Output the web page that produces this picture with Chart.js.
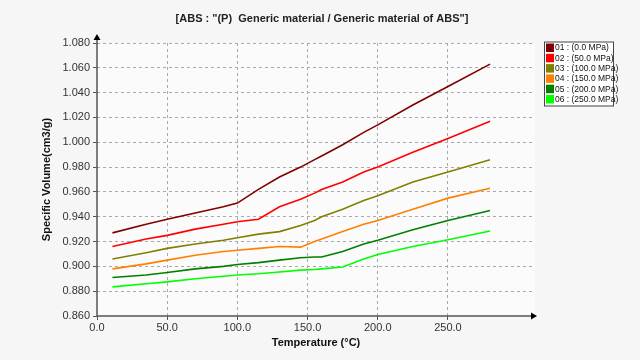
<!DOCTYPE html>
<html>
<head>
<meta charset="utf-8">
<script src="https://cdn.jsdelivr.net/npm/chart.js@4.4.0/dist/chart.umd.min.js"></script>
<style>
html,body{margin:0;padding:0;background:#f6f6f6;}
#wrap{width:640px;height:360px;position:relative;}
</style>
</head>
<body>
<div id="wrap"><canvas id="c" width="640" height="360"></canvas></div>
<script>
const chartTitle = '[ABS : "(P)  Generic material / Generic material of ABS"]';
const xTitle = 'Temperature (\u00B0C)';
const yTitle = 'Specific Volume(cm3/g)';
const xTicks = [0, 50, 100, 150, 200, 250];
const seriesLabels = ['01 : (0.0 MPa)', '02 : (50.0 MPa)', '03 : (100.0 MPa)', '04 : (150.0 MPa)', '05 : (200.0 MPa)', '06 : (250.0 MPa)'];
const seriesColors = ['#800000', '#ff0000', '#808000', '#ff8000', '#008000', '#00ff00'];
const temps = [11, 35, 50, 70, 90, 100, 115, 130, 145, 155, 160, 175, 190, 200, 225, 250, 280];
const s01 = [0.927, 0.934, 0.938, 0.943, 0.948, 0.951, 0.962, 0.972, 0.980, 0.986, 0.989, 0.998, 1.008, 1.014, 1.030, 1.045, 1.063];
const s02 = [0.916, 0.922, 0.925, 0.930, 0.934, 0.936, 0.938, 0.948, 0.954, 0.959, 0.962, 0.968, 0.976, 0.980, 0.992, 1.003, 1.017];
const s03 = [0.906, 0.911, 0.9145, 0.918, 0.921, 0.923, 0.926, 0.928, 0.933, 0.937, 0.940, 0.946, 0.953, 0.957, 0.968, 0.976, 0.986];
const s04 = [0.898, 0.902, 0.905, 0.909, 0.912, 0.913, 0.9145, 0.916, 0.9155, 0.920, 0.922, 0.928, 0.934, 0.937, 0.946, 0.955, 0.963];
const s05 = [0.891, 0.893, 0.895, 0.898, 0.900, 0.9015, 0.903, 0.905, 0.907, 0.9075, 0.9075, 0.912, 0.918, 0.921, 0.9295, 0.937, 0.945];
const s06 = [0.8835, 0.886, 0.8875, 0.890, 0.892, 0.893, 0.894, 0.8955, 0.897, 0.8975, 0.898, 0.8995, 0.906, 0.9095, 0.916, 0.9215, 0.9285];
const seriesValues = [s01, s02, s03, s04, s05, s06];

const FONT = "'Liberation Sans', Arial, sans-serif";

const bgPlugin = {
  id: 'bg',
  beforeDraw(chart) {
    const {ctx, chartArea: a} = chart;
    ctx.save();
    ctx.fillStyle = '#f6f6f6';
    ctx.fillRect(0, 0, chart.width, chart.height);
    ctx.fillStyle = '#fbfbfb';
    ctx.fillRect(a.left, a.top, a.right - a.left, a.bottom - a.top);
    ctx.restore();
  },
  afterDraw(chart) {
    const {ctx, chartArea: a} = chart;
    ctx.save();
    // axes with arrows
    ctx.strokeStyle = '#555';
    ctx.fillStyle = '#000';
    ctx.lineWidth = 1.5;
    ctx.beginPath();
    ctx.moveTo(a.left, a.bottom);
    ctx.lineTo(a.left, a.top - 6);
    ctx.moveTo(a.left, a.bottom);
    ctx.lineTo(a.right - 2, a.bottom);
    ctx.stroke();
    ctx.beginPath();
    ctx.moveTo(a.left, a.top - 9);
    ctx.lineTo(a.left - 3.5, a.top - 3);
    ctx.lineTo(a.left + 3.5, a.top - 3);
    ctx.closePath();
    ctx.fill();
    ctx.beginPath();
    ctx.moveTo(a.right + 2, a.bottom);
    ctx.lineTo(a.right - 4, a.bottom - 3.5);
    ctx.lineTo(a.right - 4, a.bottom + 3.5);
    ctx.closePath();
    ctx.fill();
    // title
    ctx.font = "bold 11px " + FONT;
    ctx.fillStyle = '#222';
    ctx.textAlign = 'center';
    ctx.textBaseline = 'middle';
    ctx.fillText(chartTitle, 322, 19);
    // legend
    const lx = 544, ly = 41.5, lw = 69, lh = 64;
    ctx.fillStyle = '#ffffff';
    ctx.fillRect(lx, ly, lw, lh);
    ctx.strokeStyle = '#444';
    ctx.lineWidth = 1;
    ctx.strokeRect(lx + 0.5, ly + 0.5, lw, lh);
    ctx.font = "8.5px " + FONT;
    ctx.textAlign = 'left';
    chart.data.datasets.forEach((ds, i) => {
      const y = ly + 2 + i * 10.3;
      ctx.fillStyle = ds.borderColor;
      ctx.fillRect(lx + 2, y, 8, 8.5);
      ctx.fillStyle = '#111';
      ctx.fillText(ds.label, lx + 11, y + 4.5);
    });
    ctx.restore();
  }
};

const datasets = seriesValues.map((vals, i) => ({
  label: seriesLabels[i],
  data: temps.map((t, j) => ({x: t, y: vals[j]})),
  borderColor: seriesColors[i],
  backgroundColor: seriesColors[i],
  borderWidth: 1.6,
  pointRadius: 0,
  tension: 0,
  fill: false
}));

new Chart(document.getElementById('c'), {
  type: 'line',
  data: {datasets},
  plugins: [bgPlugin],
  options: {
    responsive: false,
    animation: false,
    events: [],
    layout: {padding: {left: 36, right: 105, top: 43, bottom: 6}},
    plugins: {legend: {display: false}, title: {display: false}, tooltip: {enabled: false}},
    scales: {
      x: {
        type: 'linear', min: 0, max: 312,
        afterBuildTicks: s => { s.ticks = xTicks.map(v => ({value: v})); },
        afterFit: s => { s.height = 38; },
        ticks: {callback: v => Number(v).toFixed(1), font: {family: FONT, size: 11}, color: '#333', padding: 1, maxRotation: 0},
        grid: {color: ctx => ctx.tick && ctx.tick.value === 0 ? 'rgba(0,0,0,0)' : '#aaaaaa', lineWidth: 1, drawTicks: true, tickLength: 4, tickColor: '#555', tickBorderDash: []},
        border: {display: false, dash: [3, 3]},
        title: {display: true, text: xTitle, font: {family: FONT, size: 11, weight: 'bold'}, color: '#111', padding: {top: 4, bottom: 4}}
      },
      y: {
        type: 'linear', min: 0.86, max: 1.08,
        afterFit: s => { s.width = 61; },
        ticks: {stepSize: 0.02, callback: v => Number(v).toFixed(3), font: {family: FONT, size: 11}, color: '#333', padding: 3},
        grid: {color: ctx => ctx.tick && Math.abs(ctx.tick.value - 0.86) < 1e-6 ? 'rgba(0,0,0,0)' : '#aaaaaa', lineWidth: 1, drawTicks: true, tickLength: 4, tickColor: '#555', tickBorderDash: []},
        border: {display: false, dash: [3, 3]},
        title: {display: true, text: yTitle, font: {family: FONT, size: 11, weight: 'bold'}, color: '#111', padding: {top: 4, bottom: 4}}
      }
    }
  }
});
</script>
</body>
</html>
